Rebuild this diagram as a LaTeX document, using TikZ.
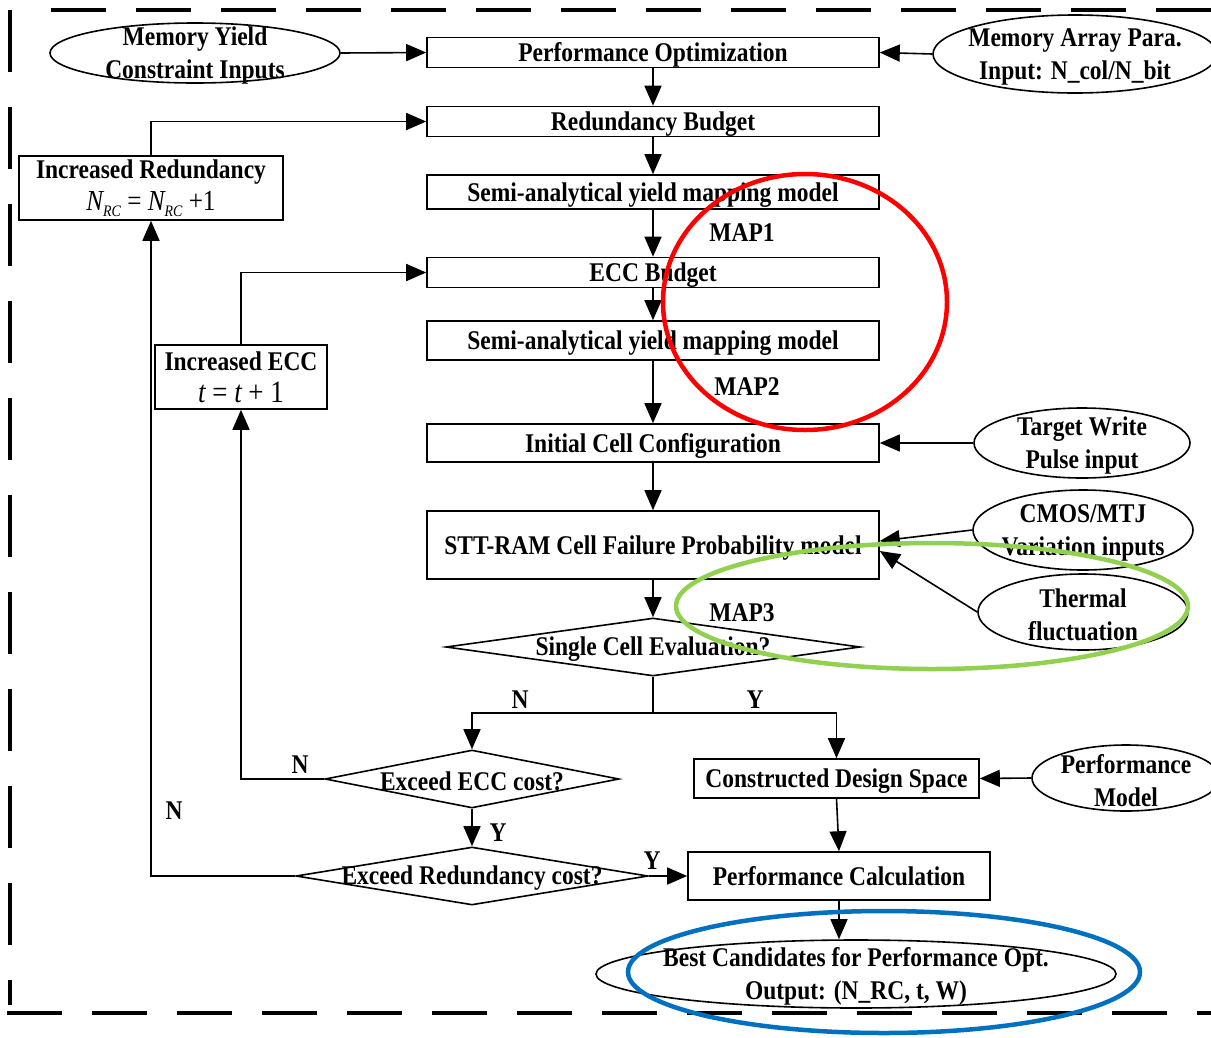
\documentclass[tikz,border=0pt]{standalone}
\usepackage{fontspec}
\setmainfont{Liberation Serif}[FakeStretch=0.87]
\usetikzlibrary{arrows.meta,shapes.geometric}
\begin{document}
\begin{tikzpicture}[x=1pt,y=-1pt,
  txt/.style={font=\fontsize{27}{33}\selectfont\bfseries, align=center, inner sep=0pt},
  lbl/.style={txt, yshift=-2.5pt},
  box/.style={draw, line width=1.6pt, inner sep=0pt, txt},
  sbox/.style={box, text depth=0pt, text height=18pt},
  ell/.style={ellipse, draw, line width=1.6pt, inner sep=0pt},
  dia/.style={diamond, draw, line width=1.6pt, inner sep=0pt},
  arr/.style={line width=1.6pt, -{Triangle[length=20pt,width=17pt]}},
  ln/.style={line width=1.6pt},
  hl/.style={line width=4.5pt}
]
\useasboundingbox (0,0) rectangle (1211,1037);
% dashed frame
\draw[line width=3.5pt, dash pattern=on 55pt off 30pt] (1211,10) -- (25,10);
\draw[line width=3.5pt, dash pattern=on 62pt off 35pt] (10,10) -- (10,1005);
\draw[line width=3.5pt, dash pattern=on 55pt off 30pt] (7,1013) -- (1211,1013);

% boxes
\node[sbox, minimum width=452pt, minimum height=30pt] (po) at (653,52.5) {Performance Optimization};
\node[sbox, minimum width=452pt, minimum height=30pt] (rb) at (653,121.5) {Redundancy Budget};
\node[sbox, minimum width=452pt, minimum height=34pt] (sa1) at (653,192) {Semi-analytical yield mapping model};
\node[sbox, minimum width=452pt, minimum height=30pt] (eb) at (653,272.5) {ECC Budget};
\node[sbox, minimum width=452pt, minimum height=39pt] (sa2) at (653,340.5) {Semi-analytical yield mapping model};
\node[sbox, minimum width=452pt, minimum height=38pt] (icc) at (653,443) {Initial Cell Configuration};
\node[sbox, minimum width=452pt, minimum height=68pt] (stt) at (653,545) {STT-RAM Cell Failure Probability model};
\node[box, minimum width=264pt, minimum height=64pt] (ired) at (151,188) {Increased Redundancy\\[-1pt]{\mdseries\fontsize{29}{29}\selectfont\itshape N\raisebox{-6pt}{\fontsize{16}{16}\selectfont RC}\upshape{} = \itshape N\raisebox{-6pt}{\fontsize{16}{16}\selectfont RC}\upshape{} +1}};
\node[box, minimum width=172pt, minimum height=64pt] (iecc) at (241,377) {Increased ECC\\[-1pt]{\mdseries\fontsize{31}{31}\selectfont\itshape t\upshape{} = \itshape t\upshape{} + 1}};
\node[sbox, minimum width=285pt, minimum height=39pt] (cds) at (836.5,778.5) {Constructed Design Space};
\node[sbox, minimum width=302pt, minimum height=48pt] (pc) at (839,876) {Performance Calculation};

% ellipses
\node[ell, minimum width=290pt, minimum height=60pt] (my) at (195,53) {};
\node[lbl] at (my) {Memory Yield\\Constraint Inputs};
\node[ell, minimum width=284pt, minimum height=78pt] (map) at (1075,54) {};
\node[lbl] at (map) {Memory Array Para.\\Input: N\_col/N\_bit};
\node[ell, minimum width=216pt, minimum height=70pt] (tw) at (1082,443) {};
\node[lbl] at (tw) {Target Write\\Pulse input};
\node[ell, minimum width=220pt, minimum height=80pt] (cmos) at (1083,530) {};
\node[lbl] at (cmos) {CMOS/MTJ\\Variation inputs};
\node[ell, minimum width=210pt, minimum height=76pt] (th) at (1083,612) {};
\node[lbl] at (th) {Thermal\\fluctuation};
\node[ell, minimum width=188pt, minimum height=66pt] (pm) at (1126,778) {};
\node[lbl] at (pm) {Performance\\Model};
\node[ell, minimum width=520pt, minimum height=68pt] (best) at (856,974) {};
\node[lbl] at (best) {Best Candidates for Performance Opt.\\Output: (N\_RC, t, W)};

% diamonds
\node[dia, minimum width=414pt, minimum height=58pt] (d1) at (653,647) {};
\node[lbl] at (d1) {Single Cell Evaluation?};
\node[dia, minimum width=294pt, minimum height=58pt] (d2) at (472,779) {};
\node[lbl] at (d2) {Exceed ECC cost?};
\node[dia, minimum width=352pt, minimum height=58pt] (d3) at (472,876) {};
\node[lbl] at (d3) {Exceed Redundancy cost?};

% labels
\node[lbl] at (742,230) {MAP1};
\node[lbl] at (747,384) {MAP2};
\node[lbl] at (742,610) {MAP3};
\node[lbl] at (520,697) {N};
\node[lbl] at (755,697) {Y};
\node[lbl] at (300,762) {N};
\node[lbl] at (498,830) {Y};
\node[lbl] at (174,808) {N};
\node[lbl] at (652,858) {Y};

% connectors
\draw[arr] (my.east) -- (po.west);
\draw[arr] (map.west) -- (po.east);
\draw[arr] (po.south) -- (rb.north);
\draw[arr] (rb.south) -- (sa1.north);
\draw[arr] (sa1.south) -- (eb.north);
\draw[arr] (eb.south) -- (sa2.north);
\draw[arr] (sa2.south) -- (icc.north);
\draw[arr] (icc.south) -- (stt.north);
\draw[arr] (stt.south) -- (d1.north);
\draw[arr] (tw.west) -- (icc.east);
\draw[arr] (cmos.west) -- ([yshift=4pt]stt.east);
\draw[arr] (th.west) -- ([yshift=-6pt]stt.east);
\coordinate (sp) at (653,713);
\draw[ln] (d1.south) -- (sp);
\draw[arr] (sp) -| (d2.north);
\draw[arr] (sp) -| (cds.north);
\draw[arr] (d2.west) -| (iecc.south);
\draw[arr] (iecc.north) |- (eb.west);
\draw[arr] (d2.south) -- (d3.north);
\draw[arr] (d3.west) -| (ired.south);
\draw[arr] (ired.north) |- (rb.west);
\draw[arr] (d3.east) -- (pc.west);
\draw[arr] (pm.west) -- (cds.east);
\draw[arr] (cds.south) -- (pc.north);
\draw[arr] (pc.south) -- (pc.south |- best.north);

% highlight ellipses
\draw[hl, color={rgb,255:red,255;green,0;blue,0}] (805,302) ellipse [x radius=142pt, y radius=128pt];
\draw[hl, color={rgb,255:red,146;green,208;blue,80}] (932,606) ellipse [x radius=256pt, y radius=63pt];
\draw[hl, color={rgb,255:red,0;green,112;blue,192}] (884,972) ellipse [x radius=256pt, y radius=61pt];
\end{tikzpicture}
\end{document}
